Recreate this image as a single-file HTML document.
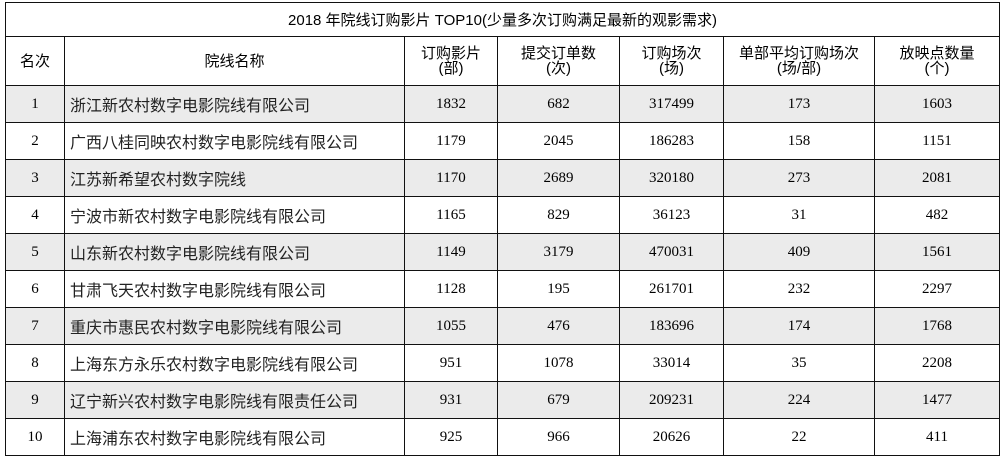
<!DOCTYPE html><html><head><meta charset="utf-8"><style>
body{margin:0;background:#fff;width:1005px;height:460px;overflow:hidden}
table{position:absolute;left:5px;top:2px;border-collapse:collapse;table-layout:fixed;width:994px;font-family:"Liberation Serif","Noto Sans CJK SC",serif;font-size:15px;color:#000}
td{border:1px solid #111;text-align:center;padding:0;height:36px;white-space:nowrap}
tr.t td{height:33px;font-family:"Liberation Sans","Noto Sans CJK SC",sans-serif;font-size:15px}
tr.h td{height:48px;font-family:"Liberation Sans","Noto Sans CJK SC",sans-serif;font-size:15px;line-height:15px}
tr.g td{background:#ebebeb}
td.n{text-align:left;padding-left:5px;font-family:"Liberation Sans","Noto Sans CJK SC",sans-serif;font-size:16px;color:#222}
</style></head><body>
<table>
<colgroup><col style="width:59px"><col style="width:340px"><col style="width:93px"><col style="width:122px"><col style="width:104px"><col style="width:151px"><col style="width:125px"></colgroup>
<tr class="t"><td colspan="7">2018 年院线订购影片 TOP10(少量多次订购满足最新的观影需求)</td></tr>
<tr class="h"><td>名次</td><td>院线名称</td><td>订购影片<br>(部)</td><td>提交订单数<br>(次)</td><td>订购场次<br>(场)</td><td>单部平均订购场次<br>(场/部)</td><td>放映点数量<br>(个)</td></tr>
<tr class="g"><td>1</td><td class="n">浙江新农村数字电影院线有限公司</td><td>1832</td><td>682</td><td>317499</td><td>173</td><td>1603</td></tr>
<tr><td>2</td><td class="n">广西八桂同映农村数字电影院线有限公司</td><td>1179</td><td>2045</td><td>186283</td><td>158</td><td>1151</td></tr>
<tr class="g"><td>3</td><td class="n">江苏新希望农村数字院线</td><td>1170</td><td>2689</td><td>320180</td><td>273</td><td>2081</td></tr>
<tr><td>4</td><td class="n">宁波市新农村数字电影院线有限公司</td><td>1165</td><td>829</td><td>36123</td><td>31</td><td>482</td></tr>
<tr class="g"><td>5</td><td class="n">山东新农村数字电影院线有限公司</td><td>1149</td><td>3179</td><td>470031</td><td>409</td><td>1561</td></tr>
<tr><td>6</td><td class="n">甘肃飞天农村数字电影院线有限公司</td><td>1128</td><td>195</td><td>261701</td><td>232</td><td>2297</td></tr>
<tr class="g"><td>7</td><td class="n">重庆市惠民农村数字电影院线有限公司</td><td>1055</td><td>476</td><td>183696</td><td>174</td><td>1768</td></tr>
<tr><td>8</td><td class="n">上海东方永乐农村数字电影院线有限公司</td><td>951</td><td>1078</td><td>33014</td><td>35</td><td>2208</td></tr>
<tr class="g"><td>9</td><td class="n">辽宁新兴农村数字电影院线有限责任公司</td><td>931</td><td>679</td><td>209231</td><td>224</td><td>1477</td></tr>
<tr><td>10</td><td class="n">上海浦东农村数字电影院线有限公司</td><td>925</td><td>966</td><td>20626</td><td>22</td><td>411</td></tr>
</table>
</body></html>
